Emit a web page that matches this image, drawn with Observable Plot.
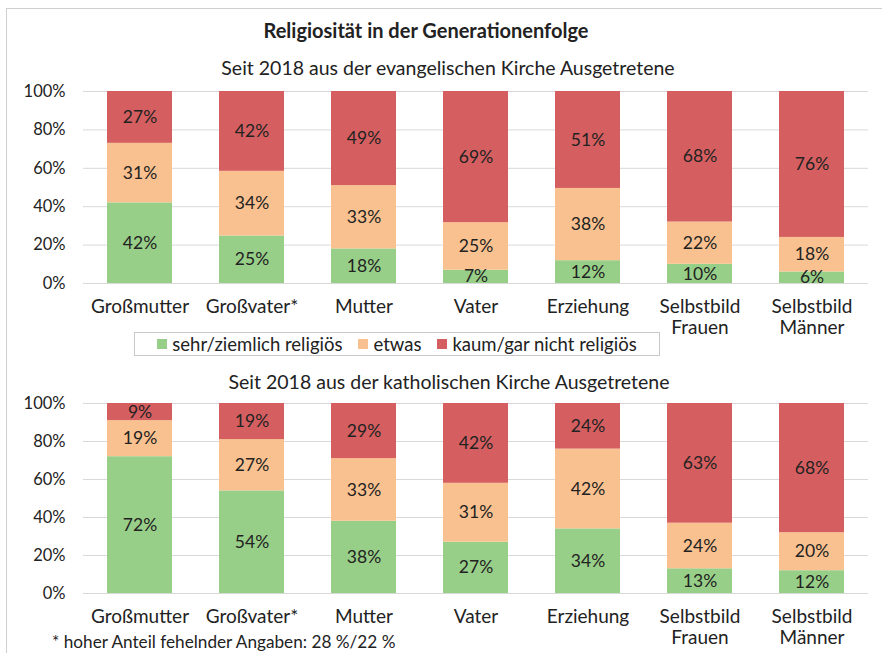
<!DOCTYPE html>
<html><head><meta charset="utf-8">
<script src="https://cdn.jsdelivr.net/npm/d3@7"></script>
<script src="https://cdn.jsdelivr.net/npm/@observablehq/plot@0.6"></script>
<style>
body{margin:0;background:#fff;}
#wrap{position:relative;width:882px;height:653px;overflow:hidden;font-family:Lato,sans-serif;color:#222;background:#fff;}
.frame{position:absolute;left:6px;top:8px;width:900px;height:700px;border-top:1.5px solid #cfcfcf;border-left:1.5px solid #cfcfcf;}
.t{position:absolute;white-space:nowrap;transform:translate(-50%,-50%);}
.panel{position:absolute;left:0;}
#legend{position:absolute;left:134px;top:332px;width:524px;height:22px;border:1px solid #c8c8c8;display:flex;align-items:center;justify-content:center;font-size:18.5px;}
#legend span.sw{display:inline-block;width:10px;height:10px;margin-right:5px;}
#legend .it{display:flex;align-items:center;margin:0 8px;}
#foot{position:absolute;left:52px;top:631px;font-size:17.2px;white-space:nowrap;}
</style></head>
<body>
<div id="wrap">
  <div class="frame"></div>
  <div class="t" id="title" style="left:426px;top:30px;font-weight:bold;font-size:20px;"></div>
  <div class="t" id="sub1" style="left:448px;top:67px;font-size:19.5px;"></div>
  <div class="panel" id="p1" style="top:80px;"></div>
  <div id="legend"></div>
  <div class="t" id="sub2" style="left:449px;top:381px;font-size:19.5px;"></div>
  <div class="panel" id="p2" style="top:390px;"></div>
  <div id="foot"></div>
</div>
<script>
const title = "Religiosität in der Generationenfolge";
const subtitleEv = "Seit 2018 aus der evangelischen Kirche Ausgetretene";
const subtitleKa = "Seit 2018 aus der katholischen Kirche Ausgetretene";
const footnote = "* hoher Anteil fehelnder Angaben: 28 %/22 %";
const categories = ["Großmutter", "Großvater*", "Mutter", "Vater", "Erziehung", "Selbstbild\nFrauen", "Selbstbild\nMänner"];
const levels = ["sehr/ziemlich religiös", "etwas", "kaum/gar nicht religiös"];
const colors = ["#98cf88", "#f9c18f", "#d55f60"];
const yTicks = [0, 0.2, 0.4, 0.6, 0.8, 1];

// evangelisch
const evSehr  = [42, 25, 18, 7, 12, 10, 6];
const evEtwas = [31, 34, 33, 25, 38, 22, 18];
const evKaum  = [27, 42, 49, 69, 51, 68, 76];
// katholisch
const kaSehr  = [72, 54, 38, 27, 34, 13, 12];
const kaEtwas = [19, 27, 33, 31, 42, 24, 20];
const kaKaum  = [9, 19, 29, 42, 24, 63, 68];

document.getElementById("title").textContent = title;
document.getElementById("sub1").textContent = subtitleEv;
document.getElementById("sub2").textContent = subtitleKa;
document.getElementById("foot").textContent = footnote;

const leg = document.getElementById("legend");
levels.forEach((l, i) => {
  const it = document.createElement("div");
  it.className = "it";
  const sw = document.createElement("span");
  sw.className = "sw";
  sw.style.background = colors[i];
  it.appendChild(sw);
  it.appendChild(document.createTextNode(l));
  leg.appendChild(it);
});

function panel(series, height, mt, mb) {
  const data = [];
  categories.forEach((c, i) => {
    levels.forEach((l, k) => data.push({cat: c, level: l, value: series[k][i]}));
  });
  return Plot.plot({
    width: 882, height,
    marginLeft: 83, marginRight: 14, marginTop: mt, marginBottom: mb,
    style: {fontFamily: "Lato, sans-serif", fontSize: "16px", color: "#222", background: "transparent", overflow: "visible"},
    x: {domain: categories, paddingInner: 0.42, paddingOuter: 0.21},
    y: {domain: [0, 1]},
    color: {domain: levels, range: colors},
    marks: [
      Plot.gridY(yTicks, {stroke: "#d9d9d9", strokeOpacity: 1}),
      Plot.axisY(yTicks, {tickSize: 0, tickPadding: 18, tickFormat: d3.format(".0%"), fontSize: 16.5, label: null}),
      Plot.axisX({tickSize: 0, tickPadding: 15, fontSize: 19, lineHeight: 1.1, label: null}),
      Plot.barY(data, Plot.stackY({x: "cat", y: "value", fill: "level", offset: "normalize"})),
      Plot.text(data, Plot.stackY({x: "cat", y: "value", z: "level", offset: "normalize", text: d => d.value + "%", fill: "#222", fontSize: 17.5}))
    ]
  });
}

document.getElementById("p1").appendChild(panel([evSehr, evEtwas, evKaum], 260, 11, 57));
document.getElementById("p2").appendChild(panel([kaSehr, kaEtwas, kaKaum], 263, 13, 60));
</script>
</body></html>
